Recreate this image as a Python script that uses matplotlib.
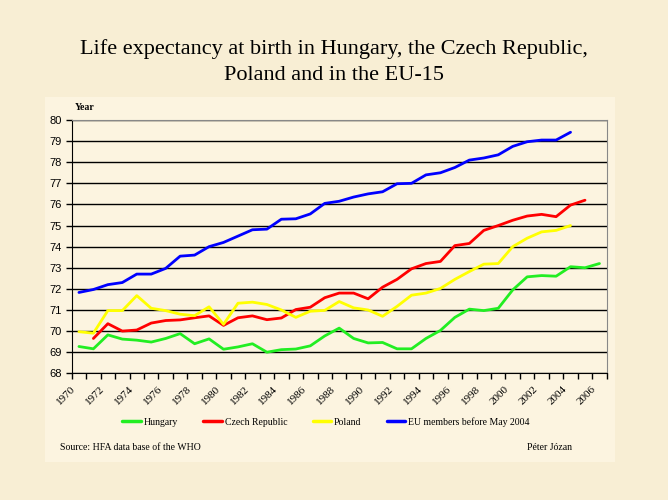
import numpy as np
import matplotlib.pyplot as plt
from matplotlib.patches import Rectangle

years = list(range(1970, 2007))

hungary = [69.27, 69.16, 69.82, 69.62, 69.57, 69.48, 69.65, 69.88, 69.4, 69.63,
           69.14, 69.25, 69.4, 69.0, 69.12, 69.15, 69.3, 69.77, 70.14, 69.65,
           69.44, 69.46, 69.16, 69.16, 69.65, 70.03, 70.65, 71.04, 70.97, 71.08,
           71.95, 72.57, 72.63, 72.6, 73.05, 73.0, 73.2]

czech = [np.nan, 69.65, 70.35, 70.0, 70.05, 70.38, 70.5, 70.53, 70.63, 70.72,
         70.27, 70.63, 70.72, 70.54, 70.62, 71.02, 71.13, 71.58, 71.8, 71.8,
         71.53, 72.08, 72.45, 72.95, 73.2, 73.3, 74.05, 74.15, 74.77, 75.0,
         75.25, 75.45, 75.53, 75.42, 75.97, 76.2, np.nan]

poland = [69.97, 69.9, 70.97, 70.97, 71.68, 71.08, 70.97, 70.8, 70.73, 71.15,
          70.32, 71.32, 71.37, 71.26, 71.0, 70.65, 70.94, 70.98, 71.4, 71.1,
          71.0, 70.7, 71.17, 71.7, 71.8, 72.02, 72.45, 72.82, 73.17, 73.2,
          74.0, 74.4, 74.7, 74.77, 75.0, np.nan, np.nan]

eu15 = [71.83, 71.97, 72.2, 72.3, 72.7, 72.7, 72.97, 73.55, 73.6, 74.0,
        74.2, 74.5, 74.8, 74.83, 75.3, 75.32, 75.55, 76.05, 76.15, 76.35,
        76.5, 76.6, 76.98, 77.0, 77.4, 77.5, 77.75, 78.1, 78.2, 78.35,
        78.75, 78.97, 79.05, 79.05, 79.42, np.nan, np.nan]

series = [
    ('Hungary', hungary, '#22ee22'),
    ('Czech Republic', czech, '#ff0000'),
    ('Poland', poland, '#ffff00'),
    ('EU members before May 2004', eu15, '#0000ff'),
]

bg = '#f8eed4'
serif = ['Liberation Serif', 'DejaVu Serif']

fig = plt.figure(figsize=(6.68, 5), dpi=100, facecolor=bg)

# lighter chart area
fig.patches.append(Rectangle((45 / 668, 1 - 462 / 500), 570 / 668, 365 / 500,
                             transform=fig.transFigure, facecolor='#fcf4e0',
                             edgecolor='none', zorder=-10))

fig.text(0.5, 1 - 54 / 500, 'Life expectancy at birth in Hungary, the Czech Republic,',
         ha='center', va='baseline', fontsize=16, family=serif)
fig.text(0.5, 1 - 80 / 500, 'Poland and in the EU-15',
         ha='center', va='baseline', fontsize=16, family=serif)

ax = fig.add_axes([71.7 / 668, 1 - 373.3 / 500, 535 / 668, 253.3 / 500])
ax.set_facecolor('none')
ax.set_zorder(5)

x = np.arange(len(years))
for name, vals, col in series:
    ax.plot(x, vals, color=col, lw=2, label=name, solid_capstyle='round')

ax.set_xlim(-0.5, len(years) - 0.5)
ax.set_ylim(68, 80)
ax.set_yticks(range(68, 81))
ax.yaxis.grid(True, color='black', lw=1)
ax.set_axisbelow(True)

ax.set_xticks(np.arange(-0.5, len(years), 1))
ax.set_xticklabels([])
ax.set_xticks(x[::2] - 0.35, minor=True)
ax.set_xticklabels([str(y) for y in years[::2]], minor=True, rotation=45,
                   ha='right', va='center', rotation_mode='anchor', fontsize=8,
                   family=serif)
ax.tick_params(axis='x', which='minor', length=0, pad=10)
ax.tick_params(axis='x', which='major', length=4, width=1, direction='out')
ax.tick_params(axis='y', length=4, width=1, labelsize=8, pad=3)
for lab in ax.get_yticklabels():
    lab.set_family(['Liberation Sans', 'DejaVu Sans'])

ax.spines['left'].set_color('black')
ax.spines['bottom'].set_color('black')
ax.spines['top'].set_color('#888888')
ax.spines['right'].set_color('#888888')

fig.text(75 / 668, 1 - 108 / 500, 'Year', fontsize=7, fontweight='bold',
         family=serif, va='center')

leg = fig.legend(loc='center', bbox_to_anchor=(326 / 668, 1 - 422 / 500), ncol=4,
                 frameon=False, handlelength=1.9, handletextpad=0.3,
                 columnspacing=2.6, prop={'family': serif, 'size': 7})
for line in leg.get_lines():
    line.set_linewidth(2.5)

fig.text(60 / 668, 1 - 447 / 500, 'Source: HFA data base of the WHO', fontsize=7,
         family=serif, va='center')
fig.text(527 / 668, 1 - 447 / 500, 'Péter Józan', fontsize=7,
         family=serif, va='center')

fig.savefig('out.png', dpi=100, facecolor=bg)
